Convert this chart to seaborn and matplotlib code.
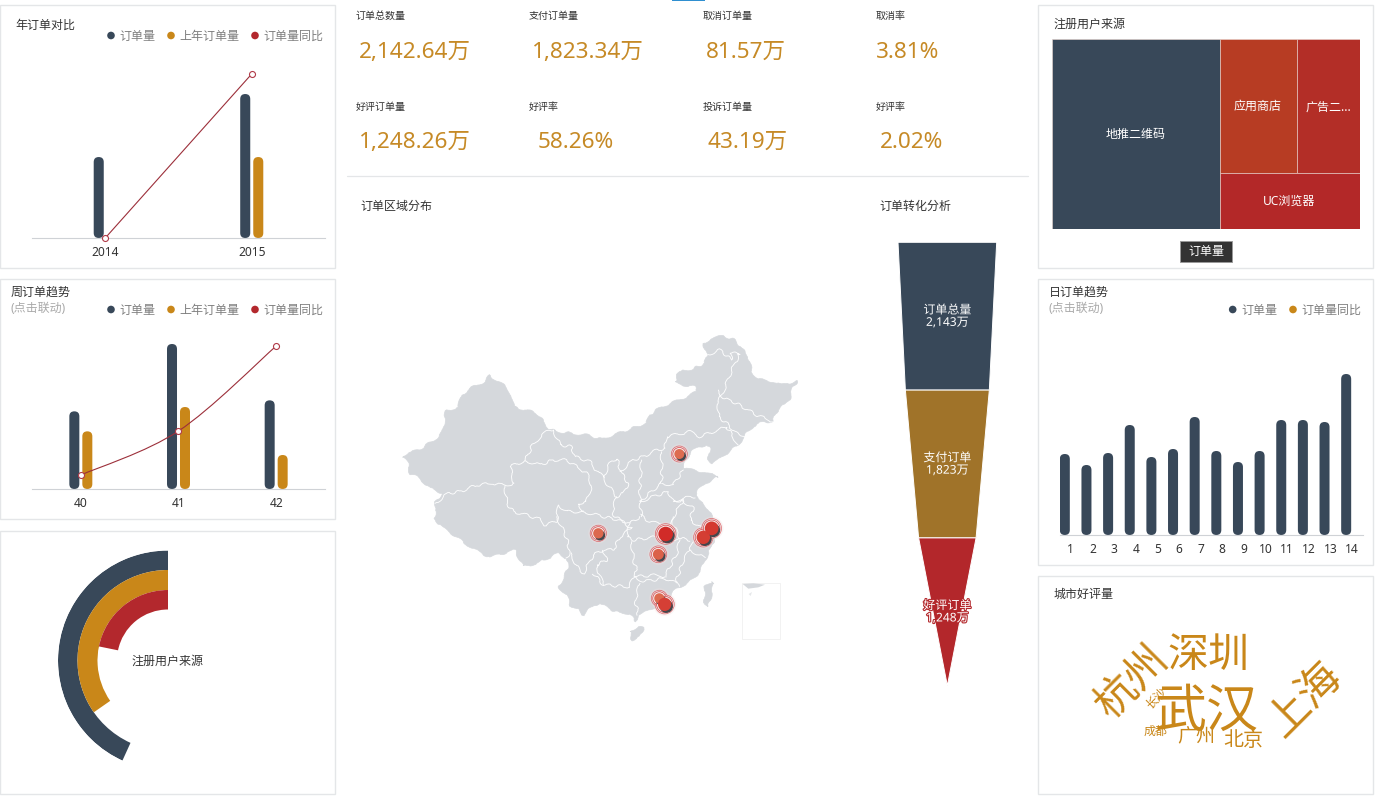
import numpy as np
import pandas as pd
import seaborn as sns
import matplotlib
matplotlib.use("Agg")
import matplotlib.pyplot as plt
import matplotlib.patheffects as pe
from matplotlib.patches import Circle, FancyBboxPatch, Rectangle, Polygon, PathPatch
from matplotlib.path import Path
from matplotlib.colors import LinearSegmentedColormap

sns.set_theme(style="white")
plt.rcParams["font.family"] = ["Noto Sans", "Noto Sans CJK SC", "DejaVu Sans"]
plt.rcParams["axes.unicode_minus"] = False

W, H = 1376, 800
NAVY, GOLD, RED = "#384859", "#c98719", "#b3282d"
BORDER = "#e4e6e8"
PX = 72 / 100  # one pixel in points at dpi 100

# Yearly orders
YEARS = ["2014", "2015"]
YEAR_ORDERS = [771, 1371]
YEAR_PREV = [0, 771]
YEAR_YOY = [0, 77.8]

# Weekly orders
WEEKS = ["40", "41", "42"]
WEEK_ORDERS = [233, 435, 266]
WEEK_PREV = [173, 246, 102]
WEEK_YOY = [14, 58, 143]

# Daily orders
DAYS = [str(d) for d in range(1, 15)]
DAY_ORDERS = [81, 70, 82, 110, 78, 86, 118, 84, 73, 84, 115, 115, 113, 161]

# Radial share of registered users
RING_SHARE = [43.2, 34.7, 21.8]

# KPI cards
KPI_LABELS = ["订单总数量", "支付订单量", "取消订单量", "取消率",
              "好评订单量", "好评率", "投诉订单量", "好评率"]
KPI_VALUES = ["2,142.64万", "1,823.34万", "81.57万", "3.81%",
              "1,248.26万", "58.26%", "43.19万", "2.02%"]

# Funnel
FUNNEL_STAGES = ["订单总量", "支付订单", "好评订单"]
FUNNEL_VALUES = [2143, 1823, 1248]

# Treemap
TREE_LABELS = ["地推二维码", "应用商店", "广告二...", "UC浏览器"]
TREE_VALUES = [545, 176, 144, 134]

# Word cloud
WORD_CITIES = ["武汉", "杭州", "深圳", "上海", "北京", "广州", "成都", "长沙"]
WORD_VALUES = [52, 42, 41, 43, 20, 19, 12, 12]

# City markers on the map grid
CITY_NAMES = ["北京", "成都", "武汉", "长沙", "杭州", "上海", "广州", "深圳"]
CITY_X = [868, 625, 827, 805, 940, 965, 808, 824]
CITY_Y = [402, 640, 642, 703, 652, 625, 835, 853]
CITY_VALUE = [30, 34, 100, 42, 80, 85, 32, 78]

# China outline on the map grid (x right, y down)
CHINA_X = [38, 55, 90, 105, 130, 158, 168, 205, 215, 250, 285, 300, 315, 340, 365, 372, 410, 440, 465, 478, 505, 545, 590, 635, 670, 700, 745, 770, 780, 800, 830, 880, 920, 915, 880, 855, 862, 878, 905, 945, 950, 940, 965, 1000, 1035, 1055, 1075, 1085, 1105, 1150, 1175, 1222, 1208, 1200, 1185, 1155, 1150, 1120, 1090, 1065, 1045, 1010, 985, 965, 955, 960, 950, 925, 905, 890, 880, 905, 935, 985, 945, 925, 915, 940, 955, 985, 970, 975, 965, 950, 930, 900, 870, 850, 830, 790, 770, 745, 735, 720, 690, 655, 630, 610, 580, 565, 540, 530, 505, 520, 535, 530, 505, 440, 400, 375, 340, 300, 265, 225, 185, 160, 132, 140, 135, 160, 120, 90, 60, 55]
CHINA_Y = [412, 395, 392, 375, 365, 335, 272, 262, 225, 200, 185, 165, 180, 195, 225, 262, 270, 280, 310, 328, 335, 340, 345, 358, 345, 335, 318, 310, 285, 270, 255, 235, 215, 200, 195, 188, 165, 150, 148, 130, 105, 70, 55, 48, 60, 85, 110, 155, 178, 185, 195, 183, 205, 235, 252, 280, 305, 305, 318, 345, 375, 400, 420, 430, 415, 385, 375, 380, 395, 415, 445, 450, 455, 470, 490, 510, 530, 545, 575, 610, 625, 650, 680, 710, 755, 785, 800, 815, 845, 865, 875, 885, 905, 880, 880, 865, 850, 855, 885, 870, 855, 825, 800, 775, 745, 715, 700, 730, 740, 690, 700, 712, 695, 670, 640, 625, 595, 565, 545, 520, 505, 475, 460, 430]
HAINAN_X = [720, 745, 760, 750, 725]
HAINAN_Y = [935, 918, 925, 950, 960]
TAIWAN_X = [965, 972, 955, 942, 945]
TAIWAN_Y = [785, 790, 860, 845, 800]

# Provincial borders on the map grid
BORDERS = [
    [(135, 550), (175, 520), (210, 515), (260, 495), (310, 490), (345, 497), (372, 490), (360, 440), (405, 422), (430, 370), (470, 335), (490, 330)],
    [(345, 497), (350, 550), (370, 575), (410, 585), (450, 598), (465, 615), (500, 605), (505, 555), (530, 575), (580, 575)],
    [(500, 590), (510, 610), (530, 655), (540, 695), (530, 715)],
    [(405, 422), (450, 435), (490, 420), (530, 420), (590, 460), (605, 495), (590, 545), (565, 550), (580, 575)],
    [(490, 330), (510, 375), (545, 380), (555, 410), (600, 425), (625, 460), (645, 470)],
    [(640, 470), (660, 430), (680, 415), (695, 460), (715, 490), (700, 520), (680, 530), (650, 490), (640, 470)],
    [(680, 530), (665, 580), (690, 600), (720, 610), (750, 590)],
    [(755, 420), (750, 490), (750, 545), (755, 590)],
    [(690, 455), (730, 420), (760, 410), (800, 390), (825, 385), (830, 350), (900, 335), (930, 350), (1010, 320), (1045, 375)],
    [(815, 395), (815, 450), (815, 490), (790, 510), (750, 545)],
    [(750, 545), (790, 530), (835, 515), (850, 545), (880, 540), (850, 590), (845, 615), (800, 610), (770, 600), (750, 585)],
    [(815, 490), (850, 495), (880, 450)],
    [(850, 545), (875, 535), (915, 530)],
    [(875, 540), (910, 565), (900, 600), (930, 620), (915, 650), (900, 690)],
    [(850, 590), (850, 615), (870, 655), (900, 660)],
    [(720, 610), (710, 650), (730, 660), (800, 650), (870, 660)],
    [(725, 665), (730, 720), (740, 750), (735, 770), (800, 765), (825, 770)],
    [(870, 660), (860, 700), (840, 740), (825, 770)],
    [(900, 690), (880, 720), (860, 780), (865, 800)],
    [(900, 690), (945, 715)],
    [(735, 770), (715, 800), (640, 795), (610, 760)],
    [(750, 790), (735, 840), (745, 885)],
    [(735, 770), (760, 785), (825, 775), (860, 790)],
    [(640, 795), (630, 770), (620, 735), (650, 720), (640, 690)],
    [(725, 625), (690, 650), (670, 690), (640, 690), (610, 705), (580, 760), (570, 755), (540, 700)],
    [(580, 575), (640, 590), (690, 600), (725, 625)],
    [(985, 210), (1000, 235), (1040, 250), (1100, 285), (1150, 305)],
    [(950, 105), (990, 90), (1025, 120), (1020, 100), (1050, 100), (1025, 150), (1000, 215), (985, 245)],
    [(985, 245), (985, 290), (1010, 310), (1045, 345), (1065, 345)],
]

fig = plt.figure(figsize=(W / 100, H / 100), dpi=100, facecolor="white")


def add_box(x0, y0, x1, y1, **kw):
    return fig.add_axes([x0 / W, 1 - y1 / H, (x1 - x0) / W, (y1 - y0) / H], **kw)


page = add_box(0, 0, W, H, zorder=10)
page.set_xlim(0, W)
page.set_ylim(H, 0)
page.axis("off")
page.patch.set_alpha(0)


def label(x, y, s, size=12, color="#333333", ha="left", va="center", **kw):
    return page.text(x, y + 1, s, fontsize=size * PX, color=color, ha=ha, va=va, **kw)


def legend(entries, y):
    for dot_x, text_x, name, color in entries:
        page.add_patch(Circle((dot_x, y + 0.5), 3.8, fc=color, ec="none"))
        label(text_x - 1.5, y, name, color="#7f7f7f")


def round_bars(ax, radius=5):
    """Swap the square bars of a barplot for pill-shaped ones."""
    bbox = ax.get_window_extent()
    xmin, xmax = ax.get_xlim()
    ymin, ymax = ax.get_ylim()
    dx = (xmax - xmin) / bbox.width
    dy = (ymax - ymin) / bbox.height
    for bar in list(ax.patches):
        x, y, w, h = bar.get_x(), bar.get_y(), bar.get_width(), bar.get_height()
        color = bar.get_facecolor()
        bar.remove()
        if not np.isfinite(h) or h <= 0:
            continue
        ax.add_patch(FancyBboxPatch((x, y), w, h,
                                    boxstyle=f"round,pad=0,rounding_size={radius * dx}",
                                    mutation_aspect=dy / dx, fc=color, ec="none", zorder=2))


def style_bar_axes(ax):
    sns.despine(ax=ax, left=True, top=True, right=True)
    ax.spines["bottom"].set_color("#cfd2d6")
    ax.spines["bottom"].set_linewidth(0.8)
    ax.set_xlabel("")
    ax.set_ylabel("")
    ax.set_yticks([])
    ax.tick_params(axis="x", length=0, labelsize=12 * PX, labelcolor="#333333", pad=5.5)
    ax.patch.set_alpha(0)


def bar_panel(box, cats, series, colors, top, width, gap):
    ax = add_box(*box)
    frame = pd.DataFrame({"cat": np.tile(cats, len(series)),
                          "name": np.repeat(list(series), len(cats)),
                          "val": np.concatenate([series[k] for k in series]).astype(float)})
    sns.barplot(data=frame, x="cat", y="val", hue="name", hue_order=list(series),
                palette=colors, width=width, gap=gap, dodge=True, errorbar=None,
                legend=False, saturation=1, ax=ax)
    ax.set_ylim(0, top)
    ax.set_xlim(-0.5, len(cats) - 0.5)
    style_bar_axes(ax)
    round_bars(ax)
    return ax


def yoy_axis(ax, top):
    twin = ax.twinx()
    twin.set_ylim(0, top)
    twin.axis("off")
    return twin


def smooth_path(xs, ys, tension=0.5):
    """Catmull-Rom curve through the data points."""
    xs, ys = np.asarray(xs, float), np.asarray(ys, float)
    verts, codes = [(xs[0], ys[0])], [Path.MOVETO]
    for i in range(len(xs) - 1):
        p0 = i - 1 if i > 0 else i
        p3 = i + 2 if i + 2 < len(xs) else i + 1
        verts += [(xs[i] + (xs[i + 1] - xs[p0]) * tension / 3, ys[i] + (ys[i + 1] - ys[p0]) * tension / 3),
                  (xs[i + 1] - (xs[p3] - xs[i]) * tension / 3, ys[i + 1] - (ys[p3] - ys[i]) * tension / 3),
                  (xs[i + 1], ys[i + 1])]
        codes += [Path.CURVE4] * 3
    return Path(verts, codes)


def yoy_markers(twin, xs, ys, n):
    sns.scatterplot(x=xs, y=ys, s=(6 * PX) ** 2, color="white", edgecolor="#b03a48",
                    linewidth=0.8, zorder=5, clip_on=False, legend=False, ax=twin)
    twin.set_xlim(-0.5, n - 0.5)
    twin.set_ylabel("")


# Panel frames
for x0, y0, x1, y1 in [(0, 5, 335, 268), (0, 279, 335, 519), (0, 531, 335, 794),
                       (1038, 5, 1373, 268), (1038, 279, 1373, 565),
                       (1038, 576, 1373, 794)]:
    page.add_patch(Rectangle((x0, y0), x1 - x0, y1 - y0, fc="none", ec=BORDER, lw=1.0))

page.add_patch(Rectangle((672, 0), 33, 1.4, fc="#2f8fd0", ec="none"))
page.plot([347, 1028], [176, 176], color="#e4e6e8", lw=0.9)

# Yearly panel
LEG3 = [(111, 121, "订单量", NAVY), (171, 181, "上年订单量", GOLD), (255, 265, "订单量同比", RED)]
label(15, 24, "年订单对比")
legend(LEG3, 35)
ax1 = bar_panel((32, 60, 325, 238), YEARS,
                {"订单量": YEAR_ORDERS, "上年订单量": YEAR_PREV},
                {"订单量": NAVY, "上年订单量": GOLD}, 1695, 0.178, 0.23)
tw1 = yoy_axis(ax1, 84.4)
sns.lineplot(x=[0, 1], y=YEAR_YOY, color="#9c2f3a", lw=0.8, ax=tw1, legend=False)
yoy_markers(tw1, [0, 1], YEAR_YOY, 2)

# Weekly panel
label(10.5, 291, "周订单趋势")
label(10.5, 307.5, "(点击联动)", color="#aaaaaa")
legend(LEG3, 309)
ax2 = bar_panel((32, 330, 325, 489), WEEKS,
                {"订单量": WEEK_ORDERS, "上年订单量": WEEK_PREV},
                {"订单量": NAVY, "上年订单量": GOLD}, 477, 0.266, 0.23)
tw2 = yoy_axis(ax2, 159)
tw2.add_patch(PathPatch(smooth_path([0, 1, 2], WEEK_YOY), fc="none", ec="#9c2f3a", lw=0.8))
yoy_markers(tw2, [0, 1, 2], WEEK_YOY, 3)

# Daily panel
label(1048.5, 291, "日订单趋势")
label(1048.5, 307.5, "(点击联动)", color="#aaaaaa")
legend([(1232.7, 1243, "订单量", NAVY), (1293, 1303, "订单量同比", GOLD)], 309)
ax3 = bar_panel((1060, 350, 1363, 535), DAYS,
                {"订单量": DAY_ORDERS, "订单量同比": [np.nan] * len(DAYS)},
                {"订单量": NAVY, "订单量同比": GOLD}, 185, 1.11, 0.167)

# Radial rings
ring = add_box(58, 550.5, 278, 770.5, projection="polar")
ring.set_theta_zero_location("N")
ring.set_theta_direction(1)
ring.set_ylim(0, 110)
ring.axis("off")
ring.patch.set_alpha(0)
for share, inner, thick, color in zip(RING_SHARE, [90.5, 70.5, 51], [19.5, 20, 19.5], [NAVY, GOLD, RED]):
    ring.bar(0, thick, width=share / 100 * 2 * np.pi, bottom=inner, align="edge", color=color, lw=0)
label(168, 660, "注册用户来源", ha="center")

# KPI cards
kpi_label_x = [356, 529, 702.5, 876]
kpi_value_x = [[359, 532, 706, 875.5], [359, 538, 707, 879.5]]
for i, (name, value) in enumerate(zip(KPI_LABELS, KPI_VALUES)):
    row, col = divmod(i, 4)
    label(kpi_label_x[col], [15, 106][row], name, size=10)
    label(kpi_value_x[row][col], [51.5, 141.5][row], value, size=22.5, color="#c68a26")
label(360.5, 205, "订单区域分布")
label(879.5, 205, "订单转化分析")

# Map
geo = add_box(390, 320, 810, 650)
geo.set_xlim(0, 1260)
geo.set_ylim(990, 0)
geo.axis("off")
geo.patch.set_alpha(0)
LAND = "#d5d8dc"
for xs, ys in [(CHINA_X, CHINA_Y), (HAINAN_X, HAINAN_Y), (TAIWAN_X, TAIWAN_Y)]:
    shape = geo.fill(xs, ys, fc=LAND, ec=LAND, lw=0.5, zorder=1)[0]
    shape.set_sketch_params(scale=1.2, length=22, randomness=3)
for line in BORDERS:
    px, py = zip(*line)
    edge, = geo.plot(px, py, color="white", lw=0.65, alpha=0.95, zorder=2, solid_joinstyle="round")
    edge.set_sketch_params(scale=1.4, length=18, randomness=3)
geo.add_patch(Rectangle((1055, 790), 115, 168, fc="none", ec="#f2f2f2", lw=0.7, zorder=1))
geo.fill([1058, 1090, 1125, 1105, 1075], [792, 790, 794, 802, 806], fc=LAND, ec="none", zorder=1)
geo.fill([1076, 1086, 1082], [822, 816, 828], fc="#e6e8ea", ec="none", zorder=1)

city_x, city_y, city_val = np.array(CITY_X, float), np.array(CITY_Y, float), np.array(CITY_VALUE, float)
radius = 5 + 2.3 * (city_val - city_val.min()) / (city_val.max() - city_val.min())
area = (2 * radius * PX) ** 2
geo.scatter(city_x, city_y, s=(2 * (radius + 5) * PX) ** 2, fc="#f0e2e2", alpha=0.35, lw=0, zorder=3)
geo.scatter(city_x, city_y, s=(2 * (radius + 3) * PX) ** 2, fc="#efe3e4", alpha=0.8, ec="#d9474b", lw=0.5, zorder=3)
geo.scatter(city_x, city_y, s=(2 * (radius + 1.5) * PX) ** 2, fc="#f4e9e8", ec="#d9474b", lw=0.5, zorder=3)
geo.scatter(city_x + 5, city_y + 6, s=area, fc="#45474d", lw=0, zorder=4)
heat = LinearSegmentedColormap.from_list("heat", ["#dd6c50", "#d12b28"])
sns.scatterplot(x=city_x, y=city_y, hue=city_val, palette=heat, size=city_val,
                sizes=(float(area.min()), float(area.max())), linewidth=0, legend=False,
                zorder=5, ax=geo)
geo.set_xlim(0, 1260)
geo.set_ylim(990, 0)
geo.axis("off")

# Funnel
fun = add_box(898, 242.3, 996.7, 685.7)
fun.axis("off")
fun.patch.set_alpha(0)
top_value = FUNNEL_VALUES[0]
fun.set_xlim(-top_value / 2, top_value / 2)
fun.set_ylim(len(FUNNEL_VALUES), 0)
widths = FUNNEL_VALUES + [0]
funnel_colors = [NAVY, "#a07329", "#b3272b"]
for i, color in enumerate(funnel_colors):
    a, b = widths[i] / 2, widths[i + 1] / 2
    fun.add_patch(Polygon([(-a, i), (a, i), (b, i + 1), (-b, i + 1)], fc=color, ec="white", lw=0.7))
    lab = fun.text(0, i + 0.5, f"{FUNNEL_STAGES[i]}\n{FUNNEL_VALUES[i]:,}万", color="white",
                   fontsize=12 * PX, ha="center", va="center", linespacing=0.93, zorder=5)
    lab.set_path_effects([pe.withStroke(linewidth=1.6, foreground=color)])

# Treemap
tree = add_box(1051.5, 39, 1359.5, 229)
tree.axis("off")
total = sum(TREE_VALUES)
tree.set_xlim(0, total)
tree.set_ylim(total, 0)
left = TREE_VALUES[0]
right = total - left
upper = TREE_VALUES[1] + TREE_VALUES[2]
split_y = upper / right * total
split_x = left + TREE_VALUES[1] / upper * right
tree_cells = [(0, 0, left, total, NAVY), (left, 0, split_x - left, split_y, "#b73c23"),
              (split_x, 0, total - split_x, split_y, "#b32e27"),
              (left, split_y, right, total - split_y, "#b32828")]
for (x, y, w, h, color), name in zip(tree_cells, TREE_LABELS):
    tree.add_patch(Rectangle((x, y), w, h, fc=color, ec="#e9d6d0", lw=0.4))
    tree.text(x + w / 2, y + h / 2 + 4, name, color="white", fontsize=12 * PX, ha="center", va="center")
label(1054, 23.5, "注册用户来源")
page.add_patch(Rectangle((1180, 241), 52, 20.5, fc="#333333", ec="#9a9a9a", lw=0.7))
label(1206, 250, "订单量", color="white", ha="center")

# Word cloud
label(1054, 593.5, "城市好评量")
word_x = [1207, 1133, 1208, 1306, 1243, 1196, 1156, 1156]
word_y = [712, 682, 655, 700, 740, 736, 730, 697]
word_rot = [0, 45, 0, 45, 0, 0, 0, 45]
for city, value, x, y, rot in zip(WORD_CITIES, WORD_VALUES, word_x, word_y, word_rot):
    label(x, y, city, size=value, color="#c98719", ha="center", rotation=rot, rotation_mode="anchor")

fig.savefig("out.png", dpi=100, facecolor="white")
